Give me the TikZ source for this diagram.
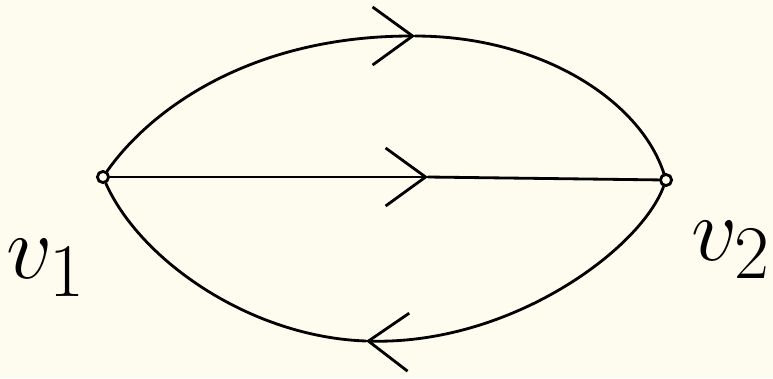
\documentclass[tikz,border=0pt]{standalone}
\usepackage{xcolor}
\usetikzlibrary{arrows.meta}
\definecolor{paper}{RGB}{254,252,238}

\begin{document}
\begin{tikzpicture}[x=0.025cm, y=-0.025cm, line width=2pt, line cap=round,
    vtx/.style={draw, circle, inner sep=0pt, minimum size=0.28cm},
    lbl/.style={font=\Huge, scale=2.6},
    fwd/.style={-{Straight Barb[length=1cm, width=1.45cm]}}]
  \fill[paper] (0,0) rectangle (773,378);
  \useasboundingbox (0,0) rectangle (773,378);
  \node[vtx] (v1) at (103,177) {};
  \node[vtx] (v2) at (666,180) {};
  \coordinate (top) at (415,36);
  \coordinate (mid) at (428,177);
  \coordinate (bot) at (366,341);
  % upper arc
  \draw[fwd] (v1) .. controls (150,110) and (250,36) .. (top);
  \draw (top) .. controls (540,36) and (640,100) .. (v2);
  % straight edge
  \draw[fwd] (v1) -- (mid);
  \draw (mid) -- (v2);
  % lower arc, back to v1
  \draw[fwd] (v2) .. controls (640,250) and (510,345) .. (bot);
  \draw (bot) .. controls (250,337) and (140,260) .. (v1);
  \node[lbl] (l1) at (46,268) {$v_1$};
  \node[lbl] (l2) at (731,250) {$v_2$};
\end{tikzpicture}
\end{document}
